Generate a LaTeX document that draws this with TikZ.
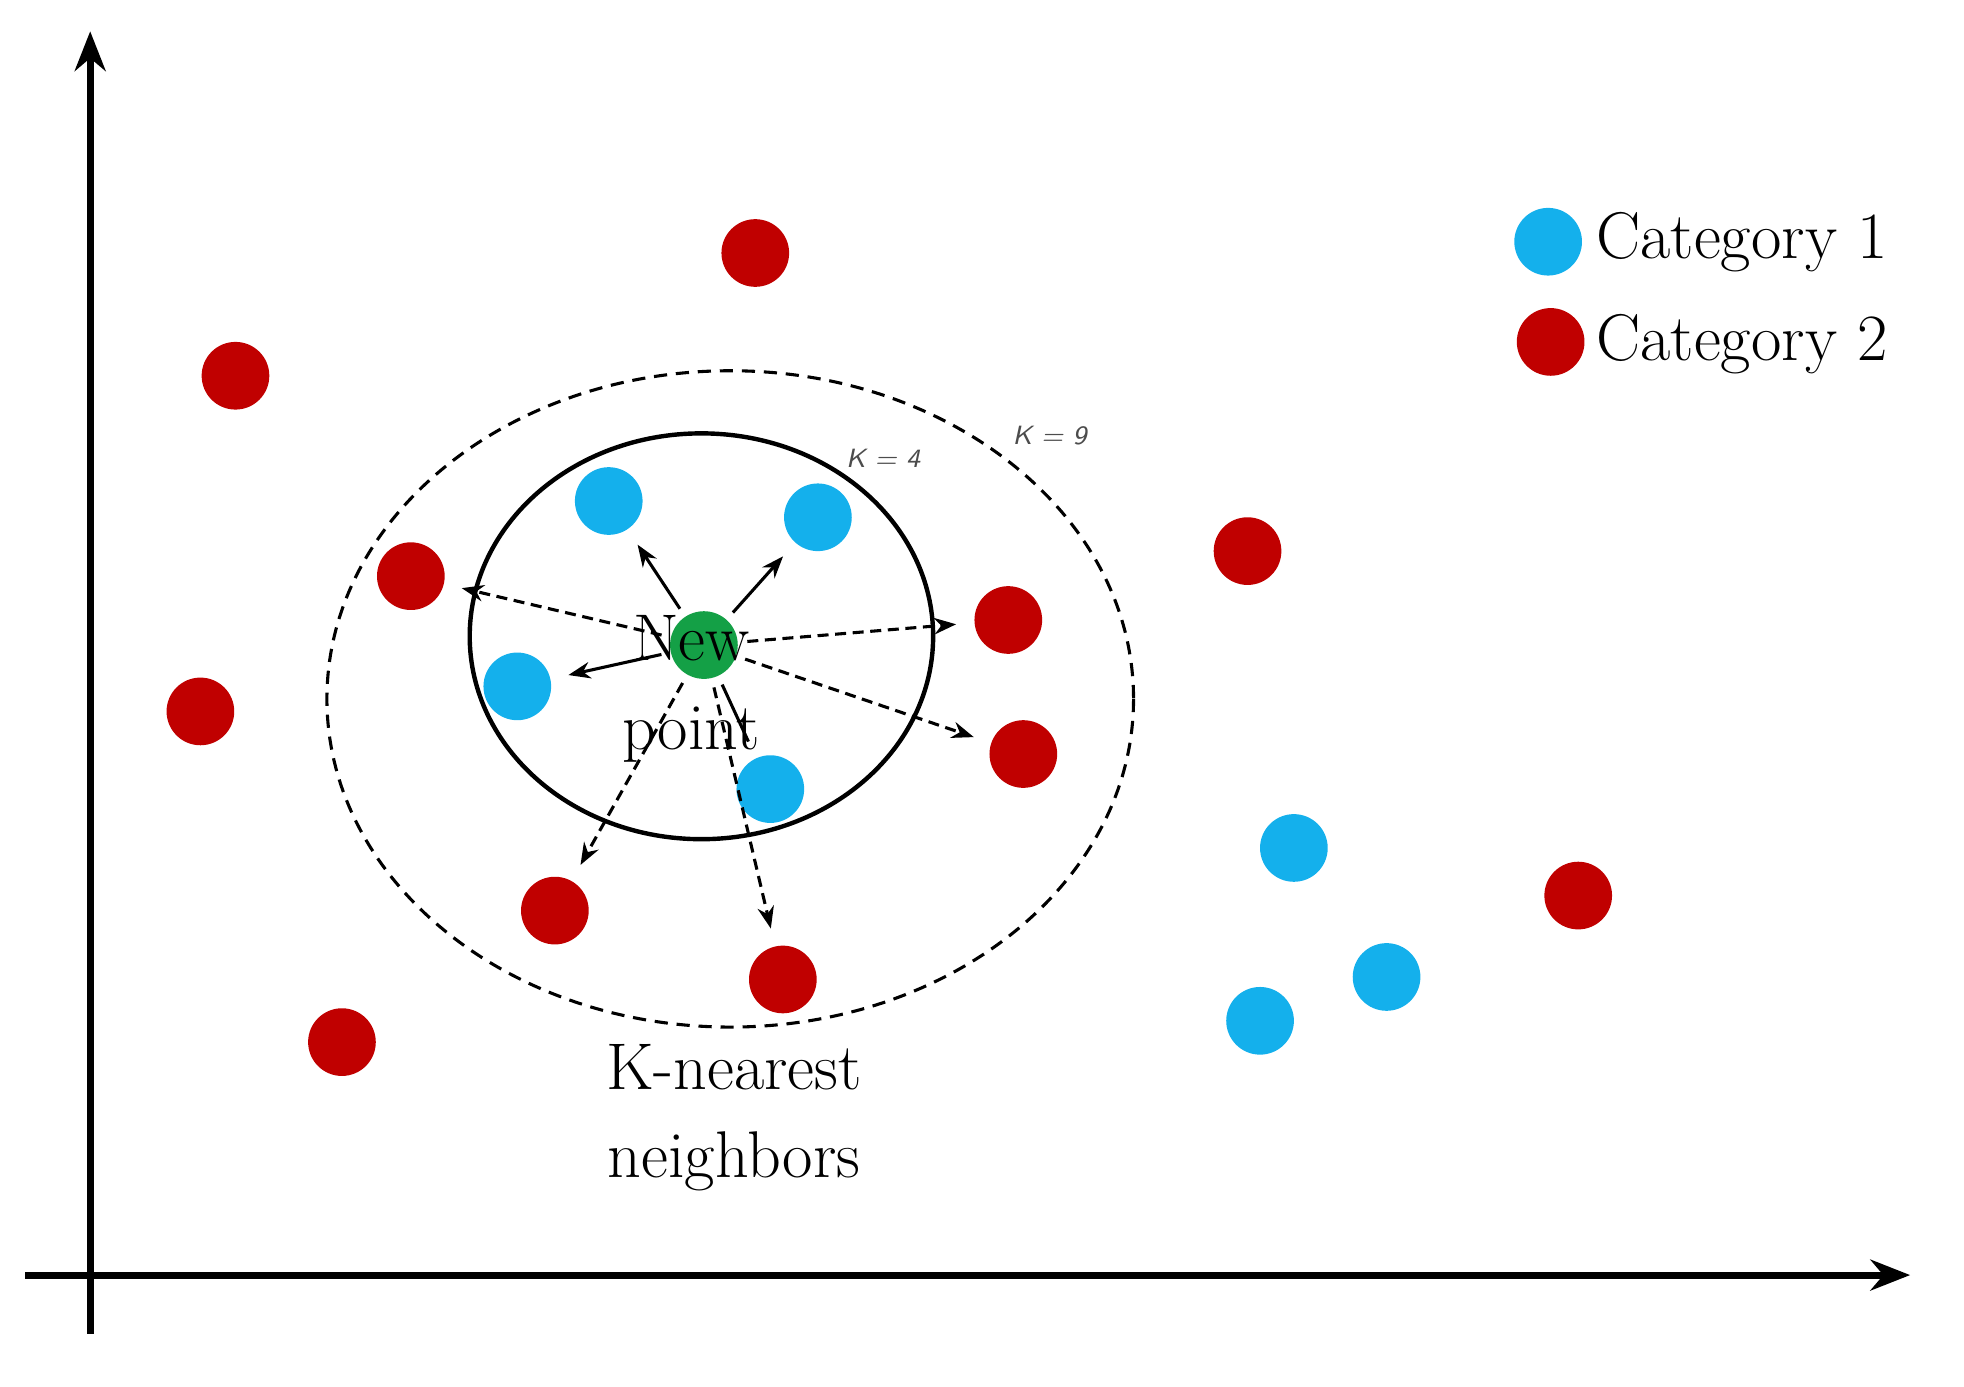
\documentclass[tikz,border=0pt]{standalone}
\usepackage{fontspec}
\usetikzlibrary{arrows.meta}
\definecolor{cred}{RGB}{192,0,0}
\definecolor{cblue}{RGB}{20,176,236}
\definecolor{cgreen}{RGB}{20,160,70}
\begin{document}
\begin{tikzpicture}[x=0.01cm,y=-0.01cm,
  dot/.style={circle,minimum size=0.54cm,inner sep=0pt},
  rd/.style={dot,fill=cred},
  bd/.style={dot,fill=cblue},
  axis/.style={line width=1.6pt,-{Stealth[length=9pt,width=7pt]}},
  sarr/.style={line width=0.7pt,-{Stealth[length=5pt]},shorten >=4pt,shorten <=2pt},
  darr/.style={sarr,dash pattern=on 2.5pt off 1.5pt},
  big/.style={font=\fontsize{15}{20}\selectfont,align=center},
  klab/.style={font=\sffamily\itshape\fontsize{6}{7}\selectfont,text=black!70}]
\useasboundingbox (0,0) rectangle (1568,1107);
\coordinate (ya) at (72,1065); \coordinate (yb) at (72,25);
\coordinate (xa) at (20,1018); \coordinate (xb) at (1525,1018);
\draw[axis] (ya) -- (yb);
\draw[axis] (xa) -- (xb);
\draw[line width=1pt] (560,508) ellipse (185 and 162);
\draw[line width=0.7pt,dash pattern=on 3pt off 2pt] (583,558) ellipse (322 and 262);
\node[klab] (k4) at (705,366) {K = 4};
\node[klab] (k9) at (838,348) {K = 9};
% points
\node[rd] (r1) at (603,202) {};
\node[rd] (r2) at (188,300) {};
\node[rd] (r3) at (328,460) {};
\node[rd] (r4) at (160,568) {};
\node[rd] (r5) at (273,832) {};
\node[rd] (r6) at (443,727) {};
\node[rd] (r7) at (625,782) {};
\node[rd] (r8) at (805,495) {};
\node[rd] (r9) at (817,602) {};
\node[rd] (r10) at (996,440) {};
\node[rd] (r11) at (1260,715) {};
\node[bd] (b1) at (486,400) {};
\node[bd] (b2) at (653,413) {};
\node[bd] (b3) at (413,548) {};
\node[bd] (b4) at (615,630) {};
\node[bd] (b5) at (1033,677) {};
\node[bd] (b6) at (1107,780) {};
\node[bd] (b7) at (1006,815) {};
\node[dot,fill=cgreen] (g) at (562,515) {};
% arrows
\draw[sarr] (g) -- (b1);
\draw[sarr] (g) -- (b2);
\draw[sarr] (g) -- (b3);
\draw[sarr,-] (g) -- (b4);
\draw[darr] (g) -- (r3);
\draw[darr] (g) -- (r8);
\draw[darr] (g) -- (r9);
\draw[darr] (g) -- (r6);
\draw[darr] (g) -- (r7);
\node[big] (np) at (552,550) {New\\point};
\node[big] (kn) at (586,892) {K-nearest\\neighbors};
% legend
\node[bd] (lb) at (1236,193) {};
\node[rd] (lr) at (1238,273) {};
\node[big,anchor=west] (lt1) at (1262,193) {Category 1};
\node[big,anchor=west] (lt2) at (1262,275) {Category 2};
\end{tikzpicture}
\end{document}
